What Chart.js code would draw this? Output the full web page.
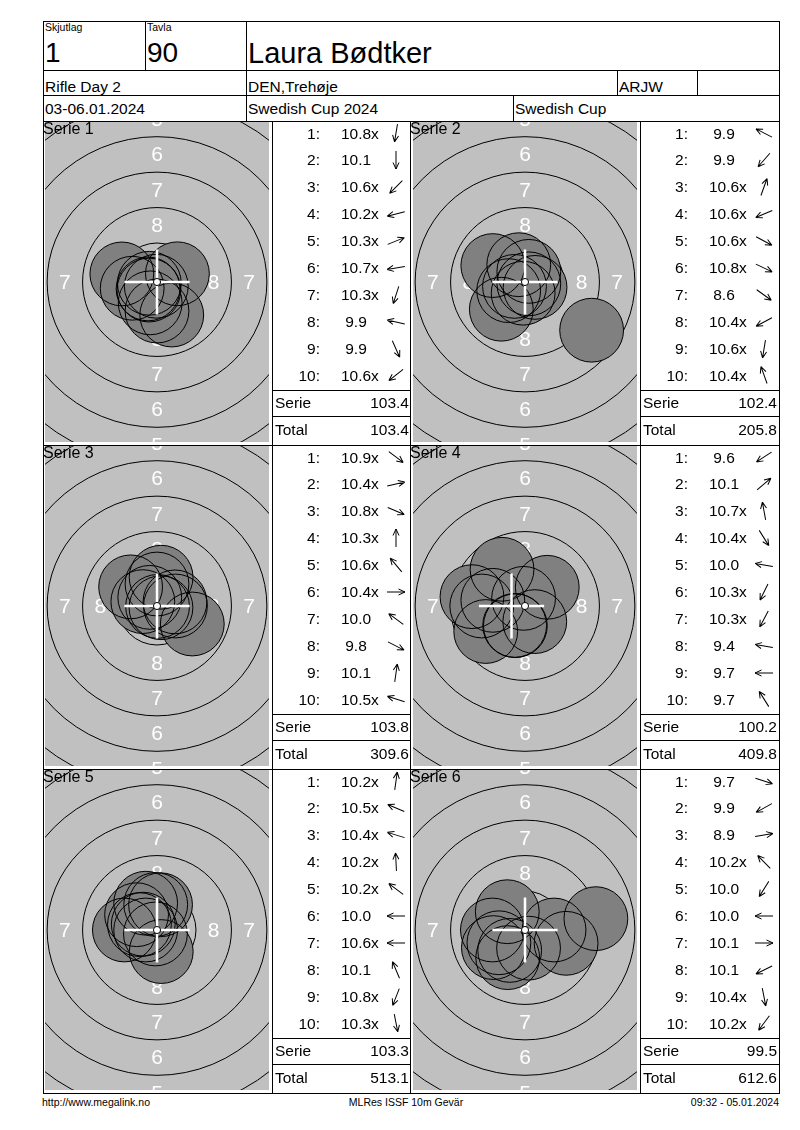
<!DOCTYPE html>
<html>
<head>
<meta charset="utf-8">
<script src="https://cdn.jsdelivr.net/npm/chart.js@4.4.1/dist/chart.umd.min.js"></script>
<style>
  body { margin: 0; background: #fff; font-family: 'Liberation Sans', Arial, sans-serif; color: #000; }
  #page { position: relative; width: 800px; height: 1130px; overflow: hidden; }
  .ln { position: absolute; background: #000; }
  .t { position: absolute; white-space: nowrap; line-height: 1; z-index: 2; }
  canvas { position: absolute; z-index: 1; }
  svg.arr { position: absolute; z-index: 2; overflow: visible; }
</style>
</head>
<body>
<div id="page"></div>
<script>
// Card header
const shooterName = 'Laura Bødtker';
const squad = '1';
const lane = '90';
const headerRow2 = ['Rifle Day 2', 'DEN,Trehøje', 'ARJW'];
const headerRow3 = ['03-06.01.2024', 'Swedish Cup 2024', 'Swedish Cup'];
const footer = ['http://www.megalink.no', 'MLRes ISSF 10m Gevär', '09:32 - 05.01.2024'];

// Series names and sums
const serieNames = ['Serie 1', 'Serie 2', 'Serie 3', 'Serie 4', 'Serie 5', 'Serie 6'];
const serieSums = ['103.4', '102.4', '103.8', '100.2', '103.3', '99.5'];
const runningTotals = ['103.4', '205.8', '309.6', '409.8', '513.1', '612.6'];

// Shot scores, and shot positions in mm from the target centre (y up)
const serie1Scores = ['10.8x', '10.1', '10.6x', '10.2x', '10.3x', '10.7x', '10.3x', '9.9', '9.9', '10.6x'];
const serie1X = [-0.05, 0.00, -0.57, -1.75, 1.44, -0.54, -0.48, -2.48, 1.04, -0.63];
const serie1Y = [-0.30, -2.05, -0.57, -0.44, 0.58, -0.09, -1.47, 0.57, -2.33, -0.49];

const serie2Scores = ['9.9', '9.9', '10.6x', '10.6x', '10.6x', '10.8x', '8.6', '10.4x', '10.6x', '10.4x'];
const serie2X = [-2.27, -1.67, 0.27, -0.74, 0.71, 0.27, 4.70, -1.15, -0.13, -0.44];
const serie2Y = [1.16, -1.92, 0.75, -0.31, -0.38, -0.13, -3.40, -0.61, -0.79, 1.22];

const serie3Scores = ['10.9x', '10.4x', '10.8x', '10.3x', '10.6x', '10.4x', '10.0', '9.8', '10.1', '10.5x'];
const serie3X = [0.04, 1.27, 0.28, 0.00, -0.51, 1.30, -1.86, 2.49, 0.29, -1.00];
const serie3Y = [-0.03, 0.29, -0.12, 1.55, 0.61, 0.00, 1.35, -1.27, 2.03, 0.31];

const serie4Scores = ['9.6', '10.1', '10.7x', '10.4x', '10.0', '10.3x', '10.3x', '9.4', '9.7', '9.7'];
const serie4X = [-2.77, 1.57, -0.10, 0.69, -2.27, -0.68, -0.73, -3.74, -3.05, -1.62];
const serie4Y = [-1.80, 1.32, 0.54, -1.10, 0.40, -1.39, -1.37, 0.66, 0.00, 2.59];

const serie5Scores = ['10.2x', '10.5x', '10.4x', '10.2x', '10.2x', '10.0', '10.6x', '10.1', '10.8x', '10.3x'];
const serie5X = [0.25, -0.97, -1.24, -0.09, -1.44, -2.30, -0.80, -0.80, -0.11, 0.30];
const serie5Y = [1.78, 0.41, 0.38, 1.80, 1.08, 0.00, 0.00, 1.89, -0.28, -1.52];

const serie6Scores = ['9.7', '9.9', '8.9', '10.2x', '10.0', '10.0', '10.1', '10.1', '10.4x', '10.2x'];
const serie6X = [2.90, -2.23, 5.00, -1.25, -1.22, -2.30, 2.05, -1.84, 0.25, -1.08];
const serie6Y = [-0.94, -1.24, 0.80, 1.29, -1.95, 0.00, 0.00, -0.90, -1.28, -1.44];

// Crosshair centre per series (mm)
const crossX = [0, 0, 0, -0.95, 0, 0];
const crossY = [0, 0, 0, 0, 0, 0];

// Target face (10m air rifle, mm)
const ringRadii = [12.75, 10.25, 7.75, 5.25, 2.75];
const ringLabels = ['5', '6', '7', '8'];
const ringLabelRadii = [11.5, 9.0, 6.5, 4.0];
const PELLET_R = 2.25;
const TEN_R = 0.25;
const CROSS_ARM = 2.3;

const allScores = [serie1Scores, serie2Scores, serie3Scores, serie4Scores, serie5Scores, serie6Scores];
const allX = [serie1X, serie2X, serie3X, serie4X, serie5X, serie6X];
const allY = [serie1Y, serie2Y, serie3Y, serie4Y, serie5Y, serie6Y];

const page = document.getElementById('page');

function hline(x1, x2, y) {
    const d = document.createElement('div');
    d.className = 'ln';
    d.style.cssText = `left:${x1}px;top:${y}px;width:${x2 - x1 + 1}px;height:1px`;
    page.appendChild(d);
}
function vline(x, y1, y2) {
    const d = document.createElement('div');
    d.className = 'ln';
    d.style.cssText = `left:${x}px;top:${y1}px;width:1px;height:${y2 - y1 + 1}px`;
    page.appendChild(d);
}
function txt(x, cy, s, size, align) {
    const d = document.createElement('div');
    d.className = 't';
    d.textContent = s;
    d.style.left = x + 'px';
    d.style.top = (cy - size / 2) + 'px';
    d.style.fontSize = size + 'px';
    if (align === 'right') d.style.transform = 'translateX(-100%)';
    if (align === 'center') d.style.transform = 'translateX(-50%)';
    page.appendChild(d);
    return d;
}

// ---- frame and header ----
const L = 43, R = 779, TOP = 21, BOT = 1093;
const rowTops = [121, 445, 769];
[TOP, 70, 95, 121, 445, 769, BOT].forEach(y => hline(L, R, y));
vline(L, TOP, BOT); vline(R, TOP, BOT);
vline(145, TOP, 70); vline(246, TOP, 121);
vline(617, 70, 95); vline(697, 70, 95);
vline(513, 95, 121);
[272, 410, 640].forEach(x => vline(x, 121, BOT));

txt(45, 27.5, 'Skjutlag', 10.5);
txt(147, 27.5, 'Tavla', 10.5);
txt(45, 53, squad, 28);
txt(147, 53, lane, 28);
txt(248, 53, shooterName, 29);
txt(45, 87, headerRow2[0], 15.5);
txt(248, 87, headerRow2[1], 15.5);
txt(619, 87, headerRow2[2], 15.5);
txt(45, 108.5, headerRow3[0], 15.5);
txt(248, 108.5, headerRow3[1], 15.5);
txt(515, 108.5, headerRow3[2], 15.5);

txt(42, 1102, footer[0], 10.5);
txt(406, 1102, footer[1], 10.5, 'center');
txt(779, 1102, footer[2], 10.5, 'right');

// ---- target face plugin ----
const targetFace = {
    id: 'targetFace',
    beforeDatasetsDraw(chart) {
        const { ctx, chartArea: a, scales: { x, y } } = chart;
        const cx = x.getPixelForValue(0), cy = y.getPixelForValue(0);
        const px = v => x.getPixelForValue(v) - cx;
        ctx.save();
        ctx.beginPath();
        ctx.rect(a.left, a.top, a.right - a.left, a.bottom - a.top);
        ctx.clip();
        ctx.fillStyle = '#c0c0c0';
        ctx.fillRect(a.left, a.top, a.right - a.left, a.bottom - a.top);
        ctx.strokeStyle = '#000';
        ctx.lineWidth = 1;
        ringRadii.forEach(r => {
            ctx.beginPath();
            ctx.arc(cx, cy, px(r), 0, Math.PI * 2);
            ctx.stroke();
        });
        ctx.fillStyle = '#fff';
        ctx.font = '21px "Liberation Sans", Arial, sans-serif';
        ctx.textAlign = 'center';
        ctx.textBaseline = 'middle';
        ringLabels.forEach((lab, i) => {
            const r = ringLabelRadii[i];
            [[0, r], [0, -r], [r, 0], [-r, 0]].forEach(([dx, dy]) => {
                ctx.fillText(lab, x.getPixelForValue(dx), y.getPixelForValue(dy) + 1);
            });
        });
        ctx.restore();
    },
    afterDatasetsDraw(chart, args, opts) {
        const { ctx, scales: { x, y } } = chart;
        const cx = x.getPixelForValue(0), cy = y.getPixelForValue(0);
        const px = v => x.getPixelForValue(v) - cx;
        const mx = x.getPixelForValue(opts.cx), my = y.getPixelForValue(opts.cy);
        const arm = px(CROSS_ARM);
        ctx.save();
        ctx.strokeStyle = '#fff';
        ctx.lineWidth = 2.5;
        ctx.beginPath();
        ctx.moveTo(mx - arm, my); ctx.lineTo(mx + arm, my);
        ctx.moveTo(mx, my - arm); ctx.lineTo(mx, my + arm);
        ctx.stroke();
        ctx.beginPath();
        ctx.arc(cx, cy, px(TEN_R), 0, Math.PI * 2);
        ctx.fillStyle = '#fff';
        ctx.fill();
        ctx.strokeStyle = '#000';
        ctx.lineWidth = 1;
        ctx.stroke();
        ctx.restore();
    }
};

const CW = 224, CH = 320;
const VIEW_X = 7.9;
const VIEW_Y = VIEW_X * CH / CW;

function pelletRadius(context) {
    const s = context.chart.scales.x;
    return s.getPixelForValue(PELLET_R) - s.getPixelForValue(0);
}

function arrowSvg(cx, cy, angleDeg) {
    const ns = 'http://www.w3.org/2000/svg';
    const svg = document.createElementNS(ns, 'svg');
    svg.setAttribute('class', 'arr');
    svg.setAttribute('width', 24);
    svg.setAttribute('height', 24);
    svg.style.left = (cx - 12) + 'px';
    svg.style.top = (cy - 12) + 'px';
    const g = document.createElementNS(ns, 'g');
    g.setAttribute('transform', `translate(12,12) rotate(${-angleDeg})`);
    const p = document.createElementNS(ns, 'path');
    p.setAttribute('d', 'M-9,0 L9,0 M9,0 L2.5,-3 M9,0 L2.5,3');
    p.setAttribute('stroke', '#000');
    p.setAttribute('stroke-width', '1');
    p.setAttribute('fill', 'none');
    g.appendChild(p);
    svg.appendChild(g);
    page.appendChild(svg);
}

serieNames.forEach((name, s) => {
    const row = Math.floor(s / 2), col = s % 2;
    const top = rowTops[row];
    const cellLeft = col ? 410 : 43;
    const tableLeft = col ? 640 : 272;

    // target chart
    const canvas = document.createElement('canvas');
    canvas.width = CW; canvas.height = CH;
    canvas.style.left = (cellLeft + (col ? 3 : 2)) + 'px';
    canvas.style.top = (top + 1) + 'px';
    canvas.style.width = CW + 'px';
    canvas.style.height = CH + 'px';
    page.appendChild(canvas);

    const pts = allX[s].map((v, i) => ({ x: v, y: allY[s][i] }));
    new Chart(canvas, {
        type: 'scatter',
        data: {
            datasets: [{
                data: pts,
                showLine: false,
                pointRadius: pelletRadius,
                pointBackgroundColor: 'rgba(0,0,0,0)',
                pointBorderColor: '#000',
                pointBorderWidth: 1,
                clip: 0
            }, {
                data: pts,
                showLine: false,
                pointRadius: pelletRadius,
                pointBackgroundColor: '#808080',
                pointBorderColor: '#808080',
                pointBorderWidth: 0,
                clip: 0
            }]
        },
        options: {
            responsive: false,
            animation: false,
            events: [],
            layout: { padding: 0 },
            scales: {
                x: { type: 'linear', min: -VIEW_X, max: VIEW_X, display: false },
                y: { type: 'linear', min: -VIEW_Y, max: VIEW_Y, display: false }
            },
            plugins: {
                legend: { display: false },
                tooltip: { enabled: false },
                targetFace: { cx: crossX[s], cy: crossY[s] }
            }
        },
        plugins: [targetFace]
    });

    txt(cellLeft, top + 8, name, 16);

    // shot table
    allScores[s].forEach((sc, i) => {
        const cy = top + 12.3 + 26.9 * i;
        txt(tableLeft + 48, cy, (i + 1) + ':', 15.5, 'right');
        const num = sc.replace('x', '');
        const d = txt(tableLeft + 84, cy, num, 15.5, 'center');
        if (sc.endsWith('x')) {
            const xs = document.createElement('span');
            xs.textContent = 'x';
            xs.style.cssText = 'position:absolute;left:100%;top:0';
            d.appendChild(xs);
        }
        const ang = Math.atan2(allY[s][i], allX[s][i]) * 180 / Math.PI;
        arrowSvg(tableLeft + 124, cy, ang);
    });
    hline(tableLeft, tableLeft + 138, top + 269);
    hline(tableLeft, tableLeft + 138, top + 295);
    txt(tableLeft + 3, top + 282, 'Serie', 15.5);
    txt(tableLeft + 137, top + 282, serieSums[s], 15.5, 'right');
    txt(tableLeft + 3, top + 309, 'Total', 15.5);
    txt(tableLeft + 137, top + 309, runningTotals[s], 15.5, 'right');
});
</script>
</body>
</html>
